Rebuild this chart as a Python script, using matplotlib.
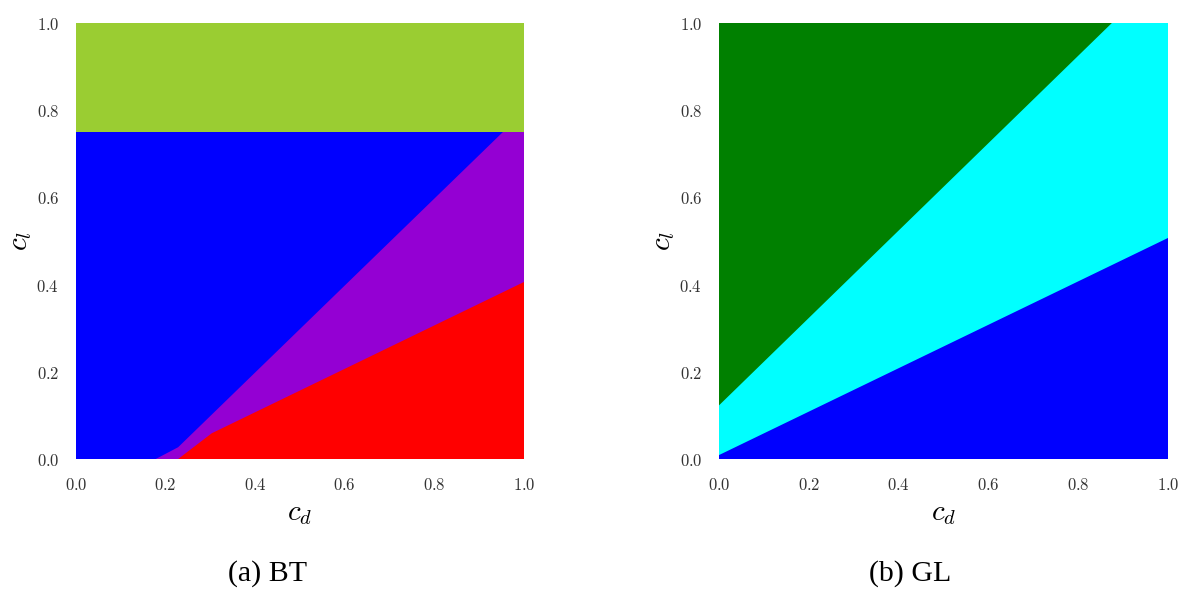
import matplotlib
matplotlib.use("Agg")
import matplotlib.pyplot as plt
import numpy as np

plt.rcParams['mathtext.fontset'] = 'cm'

# (a) BT : region boundaries
bt_top = 0.75
bt_blue_x = [0.178, 0.228, 0.953]   # blue / purple boundary
bt_blue_y = [0.0, 0.027, 0.75]
bt_red_x = [0.228, 0.303, 1.0]      # purple / red boundary
bt_red_y = [0.0, 0.059, 0.406]

# (b) GL
gl_green_x = [0.0, 0.875]           # green / cyan boundary
gl_green_y = [0.123, 1.0]
gl_blue_x = [0.0, 1.0]              # cyan / blue boundary
gl_blue_y = [0.009, 0.507]

ticks = [0.0, 0.2, 0.4, 0.6, 0.8, 1.0]
tick_labels = ['$%.1f$' % t for t in ticks]
captions = ['(a) BT', '(b) GL']

W, H = 1179, 589
fig = plt.figure(figsize=(W / 100, H / 100), dpi=100)
ax1 = fig.add_axes([76 / W, 130 / H, 448 / W, 436 / H])
ax2 = fig.add_axes([719 / W, 130 / H, 449 / W, 436 / H])

# left panel
ax1.fill([0, 1, 1, 0], [0, 0, bt_top, bt_top], color='darkviolet', lw=0)
ax1.fill([0, 1, 1, 0], [bt_top, bt_top, 1, 1], color='yellowgreen', lw=0)
ax1.fill([0] + bt_blue_x + [0], [0] + bt_blue_y + [bt_top], color='blue', lw=0)
ax1.fill(bt_red_x + [1.0], bt_red_y + [0], color='red', lw=0)

# right panel
ax2.fill([0, 1, 1, 0], [0, 0, 1, 1], color='cyan', lw=0)
ax2.fill([0] + gl_green_x, [1] + gl_green_y, color='green', lw=0)
ax2.fill(gl_blue_x + [1, 0], gl_blue_y + [0, 0], color='blue', lw=0)

for ax, cap in zip([ax1, ax2], captions):
    ax.set_xlim(0, 1)
    ax.set_ylim(0, 1)
    for s in ax.spines.values():
        s.set_visible(False)
    ax.set_xticks(ticks)
    ax.set_yticks(ticks)
    ax.set_xticklabels(tick_labels, fontsize=12, color='#333333')
    ax.set_yticklabels(tick_labels, fontsize=12, color='#333333')
    ax.tick_params(length=0, pad=12)
    ax.set_xlabel('$c_d$', fontsize=21, labelpad=4)
    ax.set_ylabel('$c_l$', fontsize=21, labelpad=2)

fig.text(268 / W, 1 - 574 / H, captions[0], fontsize=21.5, family='Liberation Serif',
         ha='center', va='center')
fig.text(910 / W, 1 - 574 / H, captions[1], fontsize=21.5, family='Liberation Serif',
         ha='center', va='center')

fig.savefig('out.png', dpi=100)
